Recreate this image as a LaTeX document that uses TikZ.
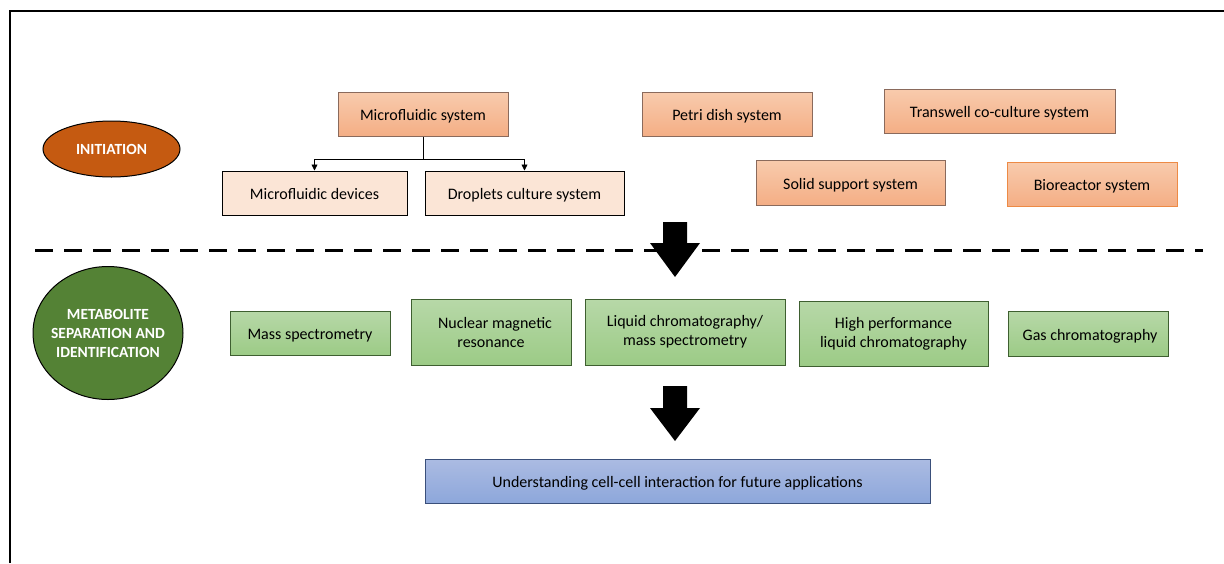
\documentclass[tikz,border=0pt]{standalone}
\usepackage{fontspec}
\setmainfont{Carlito}
\usetikzlibrary{arrows.meta,shapes.geometric}
\definecolor{orTop}{HTML}{F8CBAD}
\definecolor{orBot}{HTML}{F4AE85}
\definecolor{orLine}{HTML}{8A6A5C}
\definecolor{peach}{HTML}{FBE5D6}
\definecolor{grTop}{HTML}{B7D8A8}
\definecolor{grBot}{HTML}{9CCB86}
\definecolor{grLine}{HTML}{3E5F30}
\definecolor{blTop}{HTML}{ABBBE2}
\definecolor{blBot}{HTML}{8DA7DB}
\definecolor{blLine}{HTML}{3A4F7A}
\definecolor{rust}{HTML}{C55A11}
\definecolor{leaf}{HTML}{548235}
\definecolor{bioLine}{HTML}{ED8A45}
\tikzset{
  txt/.style={font=\fontsize{16}{19}\selectfont, text=black, align=center, inner sep=0pt},
  oneline/.style={text height=15pt, text depth=2pt},
  obox/.style={txt, oneline, rectangle, draw=orLine, line width=1pt, top color=orTop, bottom color=orBot},
  pbox/.style={txt, oneline, rectangle, draw=black, line width=1pt, fill=peach},
  gbox/.style={txt, rectangle, draw=grLine, line width=1pt, top color=grTop, bottom color=grBot},
  bbox/.style={txt, oneline, rectangle, draw=blLine, line width=1pt, top color=blTop, bottom color=blBot},
  phase/.style={ellipse, draw=black, line width=1pt, inner sep=0pt},
  phasetext/.style={text=white, align=center, inner sep=0pt,
     font=\bfseries\fontsize{15.5}{19}\selectfont},
  link/.style={draw=black, line width=0.8pt, -{Triangle[length=6pt,width=6pt]}},
  bigarrow/.style={fill=black}
}
\begin{document}
\begin{tikzpicture}[x=1pt,y=1pt]
\useasboundingbox (0,0) rectangle (1224,-563);
\draw[line width=1.3pt] (10,-563) -- (10,-11) -- (1224,-11);

% initiation
\node[phase, fill=rust, minimum width=137pt, minimum height=56pt] (init) at (111.5,-149) {};
\node[phasetext] (initT) at (init.center) {INITIATION};
\node[obox, minimum width=170pt, minimum height=44pt] (mfs) at (423,-114) {Microfluidic system};
\node[pbox, minimum width=185pt, minimum height=44pt] (mfd) at (314.5,-193) {Microfluidic devices};
\node[pbox, minimum width=199pt, minimum height=44pt] (drop) at (524.5,-193) {Droplets culture system};
\node[obox, minimum width=170pt, minimum height=44pt] (petri) at (727,-114) {Petri dish system};
\node[obox, minimum width=231pt, minimum height=44pt] (trans) at (999.5,-111) {Transwell co-culture system};
\node[obox, minimum width=189pt, minimum height=45pt] (solid) at (850.5,-182.5) {Solid support system};
\node[obox, draw=bioLine, minimum width=170pt, minimum height=44pt] (bio) at (1092,-184) {Bioreactor system};

\coordinate (split) at ([yshift=-23pt]mfs.south);
\draw[line width=0.8pt] (mfs.south) -- (split);
\draw[link] (split) -| (mfd.north);
\draw[link] (split) -| (drop.north);

% dashed separator
\draw[line width=3pt, dash pattern=on 18pt off 11pt] (35,-250) -- (1203,-250);

% big arrow 1
\fill[bigarrow] (663,-222) -- (687,-222) -- (687,-243) -- (700,-243) -- (675,-277) -- (650,-243) -- (663,-243) -- cycle;

% metabolite
\node[phase, fill=leaf, minimum width=150pt, minimum height=133pt] (meta) at (108,-333) {};
\node[phasetext] (metaT) at (meta.center) {METABOLITE\\SEPARATION AND\\IDENTIFICATION};
\node[gbox, oneline, minimum width=160pt, minimum height=44pt] (ms) at (310,-333) {Mass spectrometry};
\node[gbox, minimum width=160pt, minimum height=66pt] (nmr) at (491,-332) {\hspace*{8pt}Nuclear magnetic\\resonance};
\node[gbox, minimum width=200pt, minimum height=66pt] (lcms) at (685,-332) {Liquid chromatography/\\mass spectrometry};
\node[gbox, minimum width=189pt, minimum height=65pt] (hplc) at (893.5,-333.5) {High performance\\liquid chromatography};
\node[gbox, oneline, minimum width=160pt, minimum height=45pt] (gc) at (1088,-333.5) {\hspace*{4pt}Gas chromatography};

% big arrow 2
\fill[bigarrow] (663,-386) -- (687,-386) -- (687,-408) -- (700,-408) -- (675,-441) -- (650,-408) -- (663,-408) -- cycle;

\node[bbox, minimum width=505pt, minimum height=44pt] (und) at (677.5,-481) {Understanding cell-cell interaction for future applications};
\end{tikzpicture}
\end{document}
